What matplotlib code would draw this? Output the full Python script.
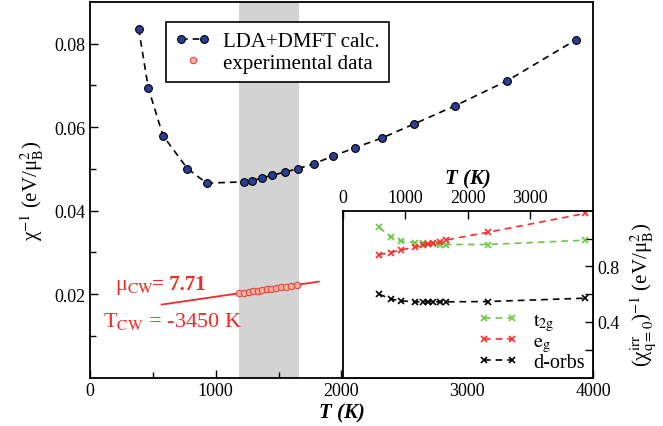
import matplotlib
matplotlib.use("Agg")
import matplotlib.pyplot as plt
from matplotlib.legend_handler import HandlerLine2D

plt.rcParams['font.family'] = ['Liberation Serif', 'DejaVu Serif']
plt.rcParams['mathtext.fontset'] = 'stix'

# ---- data ----
dmft_T = [387, 464, 580, 774, 928, 1221, 1289, 1365, 1450, 1547, 1658, 1785, 1934,
          2110, 2321, 2579, 2901, 3316, 3868]
dmft_chi = [0.0836, 0.0694, 0.0580, 0.0501, 0.0466, 0.0469, 0.0472, 0.0478, 0.0485,
            0.0492, 0.0501, 0.0513, 0.0531, 0.0551, 0.0574, 0.0608, 0.0651, 0.0711, 0.0810]

exp_T = [1187, 1225, 1262, 1300, 1335, 1370, 1406, 1443, 1480, 1517, 1557, 1600, 1644]
exp_chi = [0.02022, 0.02038, 0.02053, 0.02070, 0.02085, 0.02100, 0.02116, 0.02132,
           0.02148, 0.02164, 0.02182, 0.02201, 0.02220]

fit_T = [570, 1820]
fit_chi = [0.0175, 0.0230]

band_T = [1187, 1662]

inset_T = [580, 774, 928, 1160, 1290, 1365, 1450, 1547, 1658, 2321, 3868]
t2g = [1.08, 1.01, 0.982, 0.970, 0.965, 0.961, 0.958, 0.957, 0.957, 0.957, 0.988]
eg = [0.885, 0.899, 0.918, 0.938, 0.950, 0.958, 0.966, 0.975, 0.990, 1.045, 1.180]
dorbs = [0.600, 0.565, 0.552, 0.545, 0.545, 0.545, 0.545, 0.545, 0.545, 0.547, 0.571]

fig = plt.figure(figsize=(6.63, 4.27), dpi=100)
ax = fig.add_axes([0.1357, 0.1133, 0.7587, 0.8797])

ax.axvspan(band_T[0], band_T[1], color='#d3d3d3', lw=0, zorder=0)
l1, = ax.plot(dmft_T, dmft_chi, ls=(0, (4, 3)), color='black', lw=1.2, marker='o',
              ms=5.6, mfc='#2c3e94', mec='black', mew=0.8, label='LDA+DMFT calc.', zorder=3)
ax.plot(fit_T, fit_chi, color='#ee2a24', lw=1.3, zorder=2)
l2, = ax.plot(exp_T, exp_chi, ls='none', marker='o', ms=4.6, mfc='#f6b0a6', mec='#e8453a',
              mew=0.8, label='experimental data', zorder=3)

ax.set_xlim(0, 4000)
ax.set_ylim(0, 0.09)
ax.set_xticks([0, 1000, 2000, 3000, 4000])
ax.set_xticks([500, 1500, 2500, 3500], minor=True)
ax.set_yticks([0.02, 0.04, 0.06, 0.08])
ax.set_yticks([0.01, 0.03, 0.05, 0.07], minor=True)
ax.tick_params(which='both', direction='in', top=False, right=False, labelsize=13)
ax.tick_params(which='major', length=6, width=1)
ax.tick_params(which='minor', length=4, width=1)
for s in ax.spines.values():
    s.set_linewidth(1.3)
ax.set_xlabel('T (K)', fontsize=15, fontweight='bold', fontstyle='italic', labelpad=2)
ax.set_ylabel('χ$^{-1}$ (eV/μ$_{\\mathrm{B}}^{2}$)', fontsize=15, labelpad=6)

leg = ax.legend(handles=[l1, l2], loc='upper left', bbox_to_anchor=(0.1505, 0.9467),
                borderaxespad=0, fancybox=False, edgecolor='black', fontsize=15,
                numpoints=2, handlelength=1.7, handletextpad=0.6, framealpha=1,
                borderpad=0.45, labelspacing=0.1,
                handler_map={l2: HandlerLine2D(numpoints=1)})
leg.get_frame().set_linewidth(1.2)

ax.text(199, 0.0212, 'μ$_{\\mathrm{CW}}$', color='#ee2a24', fontsize=16)
ax.text(490, 0.0212, '= 7.71', color='#ee2a24', fontsize=15, fontweight='bold')
ax.text(103, 0.0123, 'T$_{\\mathrm{CW}}$ = -3450 K', color='#ee2a24', fontsize=16)

# ---- inset ----
ins = fig.add_axes([0.5169, 0.1133, 0.3775, 0.3909])
ins.set_facecolor('white')
ins.plot(inset_T, t2g, ls=(0, (4, 3)), color='#6cc644', lw=1.2, marker='x', ms=5,
         mew=1.2, label=r'$\mathrm{t_{2g}}$')
ins.plot(inset_T, eg, ls=(0, (4, 3)), color='#ff2a2a', lw=1.2, marker='x', ms=5,
         mew=1.2, label=r'$\mathrm{e_{g}}$')
ins.plot(inset_T, dorbs, ls=(0, (4, 3)), color='black', lw=1.2, marker='x', ms=5,
         mew=1.2, label='d-orbs')
ins.set_xlim(0, 4000)
ins.set_ylim(0, 1.2)
ins.xaxis.set_ticks_position('top')
ins.xaxis.set_label_position('top')
ins.yaxis.set_ticks_position('right')
ins.yaxis.set_label_position('right')
ins.set_xticks([0, 1000, 2000, 3000])
ins.set_yticks([0.4, 0.8])
ins.set_yticks([0.2, 0.6, 1.0], minor=True)
ins.tick_params(which='both', direction='in', length=6, width=1, labelsize=13)
for s in ins.spines.values():
    s.set_linewidth(1.3)
ins.set_xlabel('T (K)', fontsize=15, fontweight='bold', fontstyle='italic', labelpad=4)
ins.set_ylabel('(χ$^{\\mathrm{irr}}_{\\mathrm{q=0}}$)$^{-1}$ (eV/μ$_{\\mathrm{B}}^{2}$)',
               fontsize=15, labelpad=6)
ins.legend(loc='lower right', bbox_to_anchor=(1.0, -0.015), frameon=False, fontsize=14.5,
           numpoints=2, handlelength=2.0, labelspacing=-0.05, borderaxespad=0.0,
           handletextpad=0.75)

fig.savefig('out.png', dpi=100)
